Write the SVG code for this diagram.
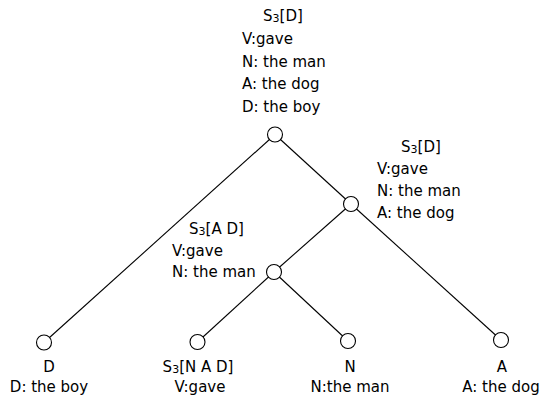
<svg xmlns="http://www.w3.org/2000/svg" width="546" height="402" viewBox="0 0 546 402">
<style>
text{font-family:"DejaVu Sans","Liberation Sans",sans-serif;font-size:15px;fill:#000}
.c{text-anchor:middle}
.sub{font-size:11px}
.n{fill:#fff;stroke:#000;stroke-width:1.1}
.e{stroke:#000;stroke-width:1.1;fill:none}
</style>
<rect width="546" height="402" fill="#fff"/>
<g id="connectors">
<line class="e" x1="275" y1="134.5" x2="44" y2="342.5"/>
<line class="e" x1="275" y1="134.5" x2="351" y2="204"/>
<line class="e" x1="351" y1="204" x2="274" y2="272"/>
<line class="e" x1="351" y1="204" x2="501" y2="340"/>
<line class="e" x1="274" y1="272" x2="197.5" y2="342"/>
<line class="e" x1="274" y1="272" x2="348" y2="341"/>
</g>
<g id="root">
<circle class="n" cx="275" cy="134.5" r="7.5"/>
<text x="263" y="21">S<tspan class="sub" dy="1">3</tspan><tspan dy="-1">[D]</tspan></text>
<text x="242" y="44">V:gave</text>
<text x="242" y="66.5">N: the man</text>
<text x="242" y="89">A: the dog</text>
<text x="242" y="112">D: the boy</text>
</g>
<g id="n1">
<circle class="n" cx="351" cy="204" r="7.5"/>
<text x="401" y="152">S<tspan class="sub" dy="1">3</tspan><tspan dy="-1">[D]</tspan></text>
<text x="377" y="174">V:gave</text>
<text x="377" y="196">N: the man</text>
<text x="377" y="218">A: the dog</text>
</g>
<g id="n2">
<circle class="n" cx="274" cy="272" r="7.5"/>
<text x="189" y="234">S<tspan class="sub" dy="1">3</tspan><tspan dy="-1">[A D]</tspan></text>
<text x="172" y="256">V:gave</text>
<text x="172" y="277">N: the man</text>
</g>
<g id="leafD">
<circle class="n" cx="44" cy="342.5" r="7.5"/>
<text class="c" x="49" y="372">D</text>
<text class="c" x="49" y="392">D: the boy</text>
</g>
<g id="leafS">
<circle class="n" cx="197.5" cy="342" r="7.5"/>
<text class="c" x="198" y="372">S<tspan class="sub" dy="1">3</tspan><tspan dy="-1">[N A D]</tspan></text>
<text class="c" x="200" y="392">V:gave</text>
</g>
<g id="leafN">
<circle class="n" cx="348" cy="341" r="7.5"/>
<text class="c" x="350" y="372">N</text>
<text class="c" x="350" y="392">N:the man</text>
</g>
<g id="leafA">
<circle class="n" cx="501" cy="340" r="7.5"/>
<text class="c" x="502" y="372">A</text>
<text class="c" x="501" y="392">A: the dog</text>
</g>
</svg>
